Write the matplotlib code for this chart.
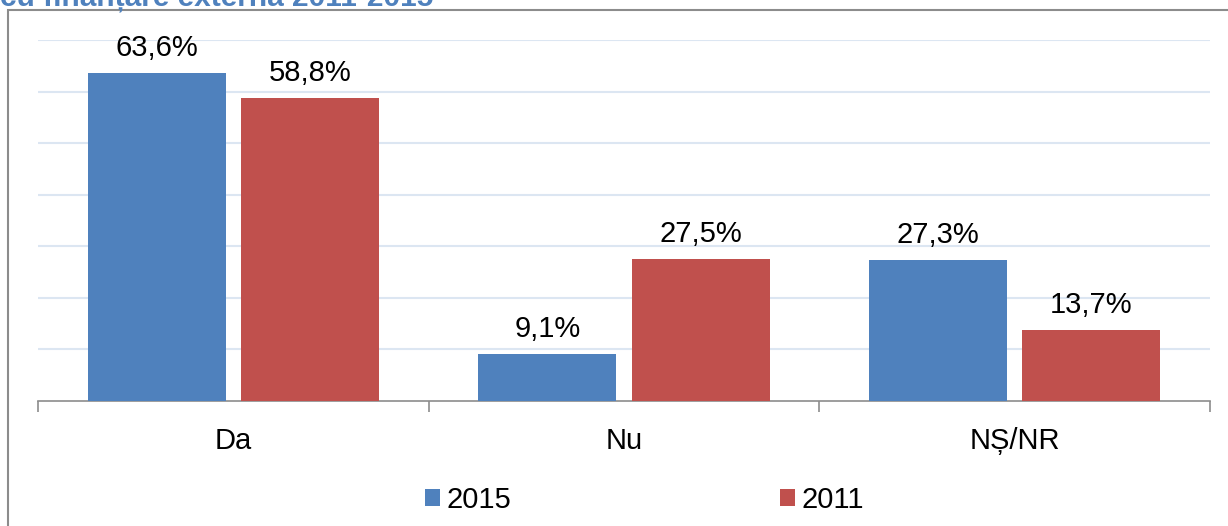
import matplotlib.pyplot as plt
import numpy as np
from matplotlib.patches import Rectangle, Patch

plt.rcParams['font.family'] = ['Liberation Sans', 'DejaVu Sans']

categories = ["Da", "Nu", "NȘ/NR"]
years = ["2015", "2011"]
values_2015 = [63.6, 9.1, 27.3]
values_2011 = [58.8, 27.5, 13.7]
title = "cu finanțare externă 2011-2015"

colors = ["#4F81BD", "#C0504D"]

fig = plt.figure(figsize=(12.28, 5.26), dpi=100)

# outer chart frame (runs off the right and bottom edges)
fig.patches.append(Rectangle((8 / 1228, -0.05), 1.1, 1 - 10 / 526 + 0.05,
                             transform=fig.transFigure, fill=False,
                             edgecolor="#8C8C8C", linewidth=1.5))

# heading sits above the frame, mostly cropped by the top edge
fig.text(0.0, 1 - 5 / 526, title, fontsize=21.5, fontweight="bold",
         color="#4F81BD", ha="left", va="baseline")

ax = fig.add_axes([38 / 1228, 1 - 401 / 526, (1210 - 38) / 1228, 361 / 526])

x = np.arange(len(categories))
width = 0.353
offset = 0.196
for i, (vals, col) in enumerate(zip([values_2015, values_2011], colors)):
    pos = x + (offset if i else -offset)
    bars = ax.bar(pos, vals, width, color=col, zorder=3)
    for b, v in zip(bars, vals):
        ax.annotate(f"{v:.1f}%".replace(".", ","),
                    (b.get_x() + b.get_width() / 2, v),
                    xytext=(0, 8), textcoords="offset points",
                    ha="center", va="bottom", fontsize=21)

ax.set_xlim(-0.5, 2.5)
ax.set_ylim(0, 70)
ax.set_yticks(np.arange(10, 71, 10))
ax.yaxis.grid(True, color="#DCE6F2", linewidth=1.5)
ax.tick_params(axis="y", length=0, labelleft=False)

ax.set_xticks(x)
ax.set_xticklabels(categories, fontsize=21)
ax.tick_params(axis="x", which="major", length=0, pad=19)
ax.set_xticks([-0.5, 0.5, 1.5, 2.5], minor=True)
ax.tick_params(axis="x", which="minor", length=8, width=1.2, color="#8C8C8C")

for s in ["left", "right", "top"]:
    ax.spines[s].set_visible(False)
ax.spines["bottom"].set_color("#8C8C8C")
ax.spines["bottom"].set_linewidth(1.2)

handles = [Patch(facecolor=c) for c in colors]
fig.legend(handles, years, loc="center", bbox_to_anchor=(0.525, 1 - 500 / 526),
           ncol=2, frameon=False, fontsize=21, handlelength=0.5,
           handleheight=0.5, handletextpad=0.25, columnspacing=9.2)

fig.savefig("out.png", dpi=100)
